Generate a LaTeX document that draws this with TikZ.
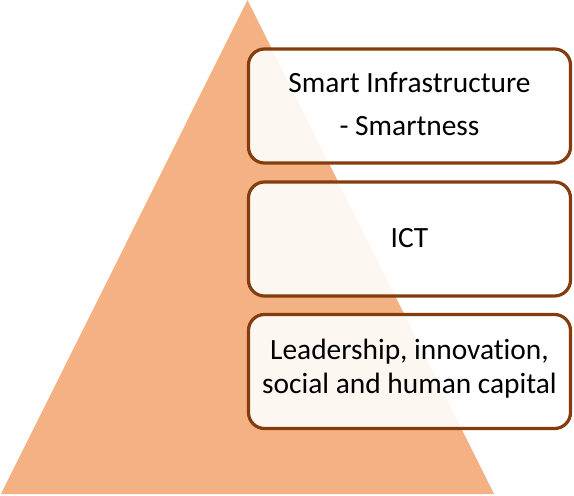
\documentclass[tikz,border=0pt]{standalone}
\usepackage{fontspec}
\setmainfont[Ligatures=NoCommon]{Carlito}
\definecolor{tri}{HTML}{F4B183}
\definecolor{boxline}{HTML}{843C0C}
\tikzset{
  layerbox/.style={draw=boxline, line width=3.2pt, rounded corners=16pt,
    fill=white, fill opacity=0.9, minimum width=322pt, minimum height=114pt,
    inner sep=0pt, outer sep=0pt},
  layertext/.style={anchor=base, inner sep=0pt, text=black,
    font=\fontsize{29.4}{34}\selectfont}
}
\begin{document}
\begin{tikzpicture}[x=1pt,y=-1pt]
\useasboundingbox (0,0) rectangle (574,496);
\coordinate (apex) at (247.5,0);
\coordinate (bl) at (1,494);
\coordinate (br) at (494,494);
\fill[tri] (apex) -- (br) -- (bl) -- cycle;
\node[layerbox] (b1) at (409.5,106) {};
\node[layerbox] (b2) at (409.5,239) {};
\node[layerbox] (b3) at (409.5,371.5) {};
\node[layertext] (t1a) at (409.5,92) {Smart Infrastructure};
\node[layertext] (t1b) at (409.5,135) {- Smartness};
\node[layertext] (t2) at (409.5,247) {ICT};
\node[layertext] (t3a) at (409.5,359) {Leadership, innovation,};
\node[layertext] (t3b) at (409.5,393) {social and human capital};
\end{tikzpicture}
\end{document}
